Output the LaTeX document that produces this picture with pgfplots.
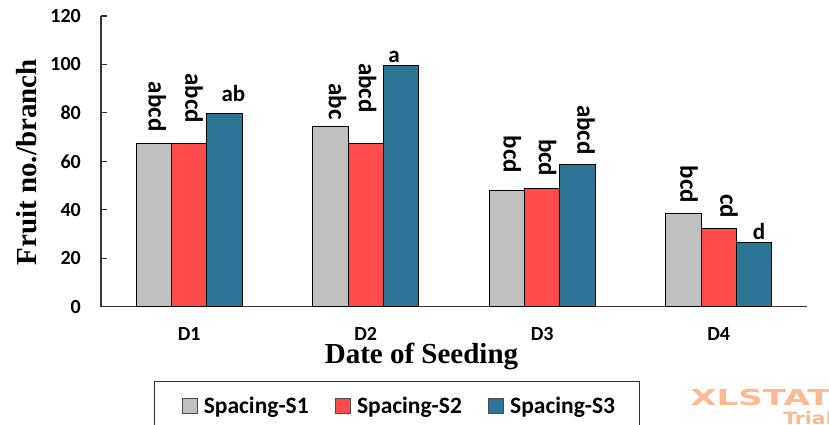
\documentclass[border=0pt]{standalone}
\usepackage{pgfplots}
\pgfplotsset{compat=1.18}
\usepackage{fontspec}
\setmainfont{Liberation Serif}
\newfontfamily\carl{Carlito}
\newfontfamily\dvs{DejaVu Sans}
\definecolor{sgray}{RGB}{192,192,192}
\definecolor{sred}{RGB}{255,75,75}
\definecolor{sblue}{RGB}{45,117,151}
\definecolor{wmark}{RGB}{252,186,146}
\begin{document}
\begin{tikzpicture}
\path[use as bounding box] (0,0) rectangle (829pt,425pt);
\begin{axis}[
  at={(101pt,118.3pt)}, anchor=south west,
  scale only axis, width=706pt, height=290.7pt,
  xmin=-0.5, xmax=3.5, ymin=0, ymax=120,
  axis lines=left, axis line style={-, black!80, line width=1.2pt},
  every tick/.style={black!80, line width=1.2pt},
  tick align=inside,
  ytick={0,20,40,60,80,100,120},
  major tick length=5.7pt,
  xtick={0,1,2,3}, xticklabels={D1,D2,D3,D4},
  x tick style={draw=none},
  minor xtick={-0.5,0.5,1.5,2.5,3.5},
  minor x tick style={black!80, line width=1.2pt},
  minor tick length=6.7pt,
  /pgf/number format/assume math mode=true,
  yticklabel style={font=\carl\bfseries\fontsize{20}{20}\selectfont, anchor=east, inner sep=0pt, xshift=-20pt},
  xticklabel style={font=\carl\bfseries\fontsize{20}{20}\selectfont, anchor=north, inner sep=0pt, yshift=-15pt},
  xlabel={Date of Seeding},
  xlabel style={at={(axis description cs:0.454,-0.196)}, anchor=base, font=\bfseries\fontsize{29}{29}\selectfont, inner sep=0pt},
  ylabel={Fruit no./branch},
  ylabel style={at={(axis description cs:-0.105,0.497)}, anchor=center, font=\bfseries\fontsize{29}{29}\selectfont, inner sep=0pt},
  ybar, bar width=35.3pt,
  legend columns=3,
  legend style={at={(axis description cs:0.0751,-0.2546)}, anchor=north west,
    draw=black!80, line width=1pt, inner xsep=27pt, inner ysep=13.5pt,
    font=\carl\bfseries\fontsize{23.5}{23.5}\selectfont,
    /tikz/every odd column/.append style={column sep=4.7pt},
    /tikz/every even column/.append style={column sep=24pt}},
  legend image code/.code={\draw[#1, draw=black!70, line width=0.6pt] (0pt,-7.5pt) rectangle (15pt,7.5pt);},
  legend cell align=left,
]
\addplot[fill=sgray, draw=black, line width=1pt, bar shift=-35.3pt] coordinates {(0,67.3) (1,74.4) (2,48.0) (3,38.4)};
\addplot[fill=sred, draw=black, line width=1pt, bar shift=0pt] coordinates {(0,67.4) (1,67.3) (2,48.7) (3,32.3)};
\addplot[fill=sblue, draw=black, line width=1pt, bar shift=35.3pt] coordinates {(0,79.7) (1,99.4) (2,58.8) (3,26.7)};
\legend{Spacing-S1,Spacing-S2,Spacing-S3\hspace*{-5pt}}
\tikzset{rl/.style={font=\carl\bfseries\fontsize{25}{25}\selectfont, rotate=-90, anchor=east, inner sep=0pt},
         hl/.style={font=\carl\bfseries\fontsize{23}{23}\selectfont, anchor=base, inner sep=0pt}}
\node[rl] at (axis cs:-0.181,72.2) {abcd};
\node[rl] at (axis cs:0.027,75.7) {abcd};
\node[hl] at (axis cs:0.250,84.6) {ab};
\node[rl] at (axis cs:0.840,77.1) {abc};
\node[rl] at (axis cs:1.010,80.0) {abcd};
\node[hl] at (axis cs:1.160,100.6) {a};
\node[rl] at (axis cs:1.831,55.1) {bcd};
\node[rl] at (axis cs:2.030,53.7) {bcd};
\node[rl] at (axis cs:2.248,62.6) {abcd};
\node[rl] at (axis cs:2.831,42.7) {bcd};
\node[rl] at (axis cs:3.058,36.5) {cd};
\node[hl] at (axis cs:3.228,27.8) {d};
\end{axis}
\node[anchor=base west, inner sep=0pt, text=wmark, xscale=1.55, font=\dvs\bfseries\fontsize{22}{22}\selectfont] at (690pt,19pt) {XLSTAT};
\node[anchor=base west, inner sep=0pt, text=wmark, xscale=1.2, font=\dvs\bfseries\fontsize{17}{17}\selectfont] at (783pt,0pt) {Trial};
\end{tikzpicture}
\end{document}
